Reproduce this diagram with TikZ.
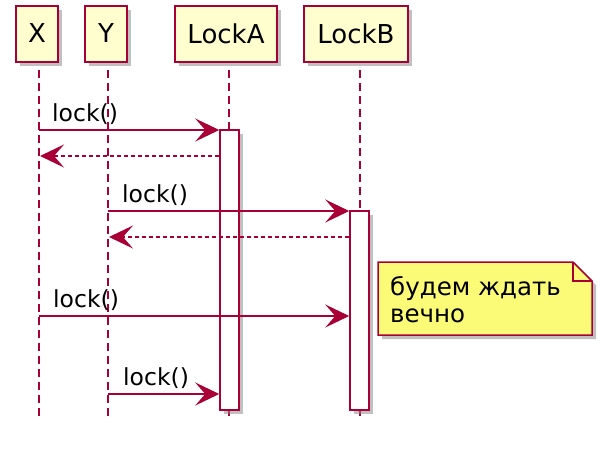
\documentclass[tikz,border=0pt]{standalone}
\usepackage{fontspec}
\setmainfont{DejaVu Sans}
\usetikzlibrary{arrows.meta, shadows}
\definecolor{umlred}{HTML}{A80036}
\definecolor{umlbox}{HTML}{FEFECE}
\definecolor{umlnote}{HTML}{FBFB77}

\begin{document}
\begin{tikzpicture}[x=1pt, y=-1pt,
	shd/.style={drop shadow={shadow xshift=4pt, shadow yshift=-4pt, fill=black!45, opacity=0.55}},
	part/.style={draw=umlred, line width=2pt, fill=umlbox, inner sep=0pt, minimum height=56pt, font=\fontsize{26}{30}\selectfont, shd},
	act/.style={draw=umlred, line width=1.5pt, fill=white, inner sep=0pt, minimum width=19pt, shd},
	life/.style={umlred, line width=1.4pt, dash pattern=on 8pt off 5pt},
	msg/.style={umlred, line width=1.5pt, -{Stealth[length=24pt, width=23pt, inset=10pt]}},
	ret/.style={msg, dash pattern=on 4pt off 3pt},
	lbl/.style={anchor=base west, inner sep=0pt, font=\fontsize{23.5}{28}\selectfont}]
	\useasboundingbox (0,0) rectangle (613,448);
	% Participants
	\node[part, minimum width=42pt] (X) at (37,33.5) {X};
	\node[part, minimum width=42pt] (Y) at (106,33.5) {Y};
	\node[part, minimum width=102pt] (LockA) at (226,33.5) {LockA};
	\node[part, minimum width=104pt] (LockB) at (356,33.5) {LockB};
	% Lifelines
	\foreach \p/\x in {X/39, Y/108, LockA/229, LockB/360} {
		\coordinate (\p-top) at (\x,70);
		\coordinate (\p-end) at (\x,418);
		\draw[life] (\p-top) -- (\p-end);
	}
	% Activations
	\node[act, minimum height=280pt] (actA) at (229.5,270) {};
	\node[act, minimum height=199pt] (actB) at (359.5,310.5) {};
	% Messages
	\coordinate (m1) at (39,130);
	\coordinate (r1) at (40,156);
	\coordinate (m2) at (108,211);
	\coordinate (r2) at (109,237);
	\coordinate (m3) at (39,316);
	\coordinate (m4) at (108,394);
	\draw[msg] (m1) -- (m1 -| actA.west);
	\node[lbl] (l1) at (52,121) {lock()};
	\draw[ret] (r1 -| actA.west) -- (r1);
	\draw[msg] (m2) -- (m2 -| actB.west);
	\node[lbl] (l2) at (122,202) {lock()};
	\draw[ret] (r2 -| actB.west) -- (r2);
	\draw[msg] (m3) -- (m3 -| actB.west);
	\node[lbl] (l3) at (53,307) {lock()};
	\draw[msg] (m4) -- (m4 -| actA.west);
	\node[lbl] (l4) at (123,385) {lock()};
	% Note
	\path[draw=umlred, line width=1.5pt, fill=umlnote, shd]
	(378,262) -- (573,262) -- (592,281) -- (592,335) -- (378,335) -- cycle;
	\draw[umlred, line width=1.5pt] (573,262) -- (573,281) -- (592,281);
	\node[lbl, align=left, font=\fontsize{24.5}{27}\selectfont] (note) at (390,322) {будем ждать\\вечно};
\end{tikzpicture}
\end{document}
